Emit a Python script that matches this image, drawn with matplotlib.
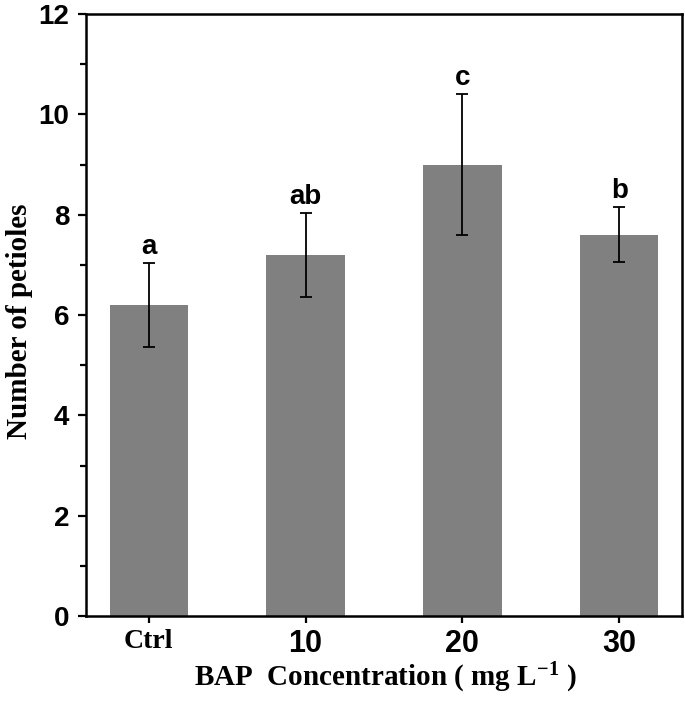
import matplotlib
matplotlib.use("Agg")
import matplotlib.pyplot as plt
from matplotlib.ticker import MultipleLocator

categories = ["Ctrl", "10", "20", "30"]
means = [6.2, 7.2, 9.0, 7.6]
errors = [0.83, 0.84, 1.41, 0.55]
letters = ["a", "ab", "c", "b"]
yticks = [0, 2, 4, 6, 8, 10, 12]

plt.rcParams['mathtext.fontset'] = 'custom'
plt.rcParams['mathtext.rm'] = 'Liberation Serif:bold'
plt.rcParams['mathtext.bf'] = 'Liberation Serif:bold'
plt.rcParams['mathtext.default'] = 'rm'

fig = plt.figure(figsize=(6.85, 7.04), dpi=100)
ax = fig.add_axes([86/685, 88/704, 596/685, 602/704])

x = list(range(len(categories)))
ax.bar(x, means, width=0.5, color="#808080", edgecolor="none", zorder=2)
ax.errorbar(x, means, yerr=errors, fmt="none", ecolor="black",
            elinewidth=1.3, capsize=4.5, capthick=1.3, zorder=3)

for xi, m, e, lab in zip(x, means, errors, letters):
    ax.annotate(lab, (xi, m + e), xytext=(0, 6.5), textcoords="offset points",
                ha="center", va="baseline", fontsize=20,
                fontfamily="Liberation Sans", fontweight="bold")

ax.set_xlim(-0.4, 3.4)
ax.set_ylim(0, 12)
ax.set_yticks(yticks)
ax.yaxis.set_minor_locator(MultipleLocator(1))
ax.set_xticks(x)
ax.set_xticklabels(categories)

for sp in ax.spines.values():
    sp.set_linewidth(1.8)

ax.tick_params(axis="y", which="major", direction="out", length=6, width=1.6,
               pad=6, labelsize=20)
ax.tick_params(axis="y", which="minor", direction="out", length=4, width=1.6)
ax.tick_params(axis="x", which="major", direction="out", length=5, width=1.6,
               pad=4, labelsize=22)

for lab in ax.get_yticklabels():
    lab.set_fontfamily("Liberation Sans")
    lab.set_fontweight("bold")
for lab in ax.get_xticklabels():
    lab.set_fontweight("bold")
    if lab.get_text() == "Ctrl":
        lab.set_fontfamily("Liberation Serif")
        lab.set_fontsize(20)
    else:
        lab.set_fontfamily("Liberation Sans")

ax.set_ylabel("Number of petioles", fontsize=21, fontfamily="Liberation Serif",
              fontweight="bold")
ax.yaxis.set_label_coords(-0.089, 0.49)
ax.set_xlabel(r"BAP  Concentration ( mg L$^{-1}$ )", fontsize=21,
              fontfamily="Liberation Serif", fontweight="bold")
ax.xaxis.set_label_coords(0.503, -0.074)

fig.savefig("out.png", dpi=100)
